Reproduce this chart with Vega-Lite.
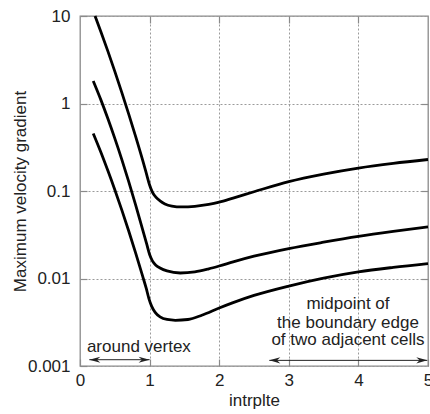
{
  "$schema": "https://vega.github.io/schema/vega-lite/v6.json",
  "width": 348,
  "height": 350,
  "autosize": "none",
  "padding": {"left": 80, "top": 16, "right": 2, "bottom": 48},
  "config": {
    "font": "Liberation Sans",
    "view": {"stroke": "#8a8a8a", "strokeWidth": 1.3},
    "axis": {
      "labelFont": "Liberation Sans",
      "titleFont": "Liberation Sans",
      "labelFontSize": 17,
      "titleFontSize": 17,
      "titleFontWeight": "normal",
      "labelColor": "#222",
      "titleColor": "#222",
      "domain": false,
      "gridColor": "#9a9a9a",
      "gridDash": [2, 2],
      "gridWidth": 1,
      "tickColor": "#8a8a8a",
      "tickSize": -7,
      "tickWidth": 1.2
    }
  },
  "datasets": {
    "curves": [
      {"series": "a", "x": 0.216, "y": 10},
      {"series": "a", "x": 0.3, "y": 6.62},
      {"series": "a", "x": 0.4, "y": 3.97},
      {"series": "a", "x": 0.5, "y": 2.33},
      {"series": "a", "x": 0.6, "y": 1.34},
      {"series": "a", "x": 0.7, "y": 0.757},
      {"series": "a", "x": 0.8, "y": 0.418},
      {"series": "a", "x": 0.9, "y": 0.225},
      {"series": "a", "x": 0.96, "y": 0.152},
      {"series": "a", "x": 1.0, "y": 0.117},
      {"series": "a", "x": 1.04, "y": 0.097},
      {"series": "a", "x": 1.09, "y": 0.085},
      {"series": "a", "x": 1.15, "y": 0.077},
      {"series": "a", "x": 1.22, "y": 0.0712},
      {"series": "a", "x": 1.32, "y": 0.0673},
      {"series": "a", "x": 1.46, "y": 0.0657},
      {"series": "a", "x": 1.65, "y": 0.0668},
      {"series": "a", "x": 1.85, "y": 0.0702},
      {"series": "a", "x": 2.0, "y": 0.0745},
      {"series": "a", "x": 2.2, "y": 0.083},
      {"series": "a", "x": 2.5, "y": 0.098},
      {"series": "a", "x": 3.0, "y": 0.128},
      {"series": "a", "x": 3.5, "y": 0.156},
      {"series": "a", "x": 4.0, "y": 0.183},
      {"series": "a", "x": 4.5, "y": 0.207},
      {"series": "a", "x": 5.0, "y": 0.229},
      {"series": "b", "x": 0.19, "y": 1.81},
      {"series": "b", "x": 0.3, "y": 1.1},
      {"series": "b", "x": 0.4, "y": 0.673},
      {"series": "b", "x": 0.5, "y": 0.399},
      {"series": "b", "x": 0.6, "y": 0.23},
      {"series": "b", "x": 0.7, "y": 0.128},
      {"series": "b", "x": 0.8, "y": 0.069},
      {"series": "b", "x": 0.9, "y": 0.0361},
      {"series": "b", "x": 0.96, "y": 0.0245},
      {"series": "b", "x": 1.0, "y": 0.0188},
      {"series": "b", "x": 1.04, "y": 0.0159},
      {"series": "b", "x": 1.09, "y": 0.0142},
      {"series": "b", "x": 1.15, "y": 0.0132},
      {"series": "b", "x": 1.25, "y": 0.0122},
      {"series": "b", "x": 1.44, "y": 0.01155},
      {"series": "b", "x": 1.65, "y": 0.0119},
      {"series": "b", "x": 1.85, "y": 0.0129},
      {"series": "b", "x": 2.0, "y": 0.0139},
      {"series": "b", "x": 2.2, "y": 0.0155},
      {"series": "b", "x": 2.5, "y": 0.018},
      {"series": "b", "x": 3.0, "y": 0.022},
      {"series": "b", "x": 3.5, "y": 0.026},
      {"series": "b", "x": 4.0, "y": 0.0303},
      {"series": "b", "x": 4.5, "y": 0.0345},
      {"series": "b", "x": 5.0, "y": 0.0388},
      {"series": "c", "x": 0.19, "y": 0.455},
      {"series": "c", "x": 0.3, "y": 0.277},
      {"series": "c", "x": 0.4, "y": 0.171},
      {"series": "c", "x": 0.5, "y": 0.1035},
      {"series": "c", "x": 0.6, "y": 0.0609},
      {"series": "c", "x": 0.7, "y": 0.0349},
      {"series": "c", "x": 0.8, "y": 0.0195},
      {"series": "c", "x": 0.9, "y": 0.01064},
      {"series": "c", "x": 0.95, "y": 0.0078},
      {"series": "c", "x": 0.99, "y": 0.0059},
      {"series": "c", "x": 1.03, "y": 0.0048},
      {"series": "c", "x": 1.08, "y": 0.0041},
      {"series": "c", "x": 1.15, "y": 0.00365},
      {"series": "c", "x": 1.25, "y": 0.0034},
      {"series": "c", "x": 1.37, "y": 0.00333},
      {"series": "c", "x": 1.55, "y": 0.0034},
      {"series": "c", "x": 1.75, "y": 0.0038},
      {"series": "c", "x": 2.0, "y": 0.0046},
      {"series": "c", "x": 2.2, "y": 0.0053},
      {"series": "c", "x": 2.5, "y": 0.0064},
      {"series": "c", "x": 3.0, "y": 0.0082},
      {"series": "c", "x": 3.5, "y": 0.0101},
      {"series": "c", "x": 4.0, "y": 0.0119},
      {"series": "c", "x": 4.5, "y": 0.0134},
      {"series": "c", "x": 5.0, "y": 0.0148}
    ],
    "labels": [
      {"x": 0.846, "y": 0.00145, "text": "around vertex"},
      {"x": 3.85, "y": 0.00453, "text": "midpoint of"},
      {"x": 3.85, "y": 0.00275, "text": "the boundary edge"},
      {"x": 3.85, "y": 0.00172, "text": "of two adjacent cells"}
    ],
    "arrows": [
      {"x1": 0.134, "x2": 1.0, "y": 0.00118},
      {"x1": 2.72, "x2": 4.99, "y": 0.00116}
    ]
  },
  "resolve": {"axis": {"x": "independent", "y": "independent"}},
  "layer": [
    {
      "data": {"name": "curves"},
      "mark": {"type": "line", "color": "#000", "strokeWidth": 2.8, "interpolate": "monotone"},
      "encoding": {
        "x": {
          "field": "x", "type": "quantitative",
          "scale": {"domain": [0, 5], "nice": false, "zero": false},
          "axis": {"title": "intrplte", "values": [0, 1, 2, 3, 4, 5], "labelPadding": 13, "titlePadding": 4, "labelFlush": false}
        },
        "y": {
          "field": "y", "type": "quantitative",
          "scale": {"type": "log", "domain": [0.001, 10], "nice": false},
          "axis": {"title": "Maximum velocity gradient", "values": [0.001, 0.01, 0.1, 1, 10], "format": "~g", "labelPadding": 17, "titlePadding": 2, "titleBaseline": "alphabetic", "labelFlush": false}
        },
        "detail": {"field": "series", "type": "nominal"}
      }
    },
    {
      "data": {"name": "labels"},
      "mark": {"type": "text", "fontSize": 17, "color": "#222", "align": "center", "baseline": "alphabetic", "font": "Liberation Sans"},
      "encoding": {
        "x": {"field": "x", "type": "quantitative", "axis": {"orient": "top", "labels": false, "grid": false, "title": null, "values": [1, 2, 3, 4]}},
        "y": {"field": "y", "type": "quantitative", "axis": {"orient": "right", "labels": false, "grid": false, "title": null, "values": [0.01, 0.1, 1]}},
        "text": {"field": "text"}
      }
    },
    {
      "data": {"name": "arrows"},
      "mark": {"type": "rule", "color": "#222", "strokeWidth": 1},
      "encoding": {
        "x": {"field": "x1", "type": "quantitative", "axis": null},
        "x2": {"field": "x2"},
        "y": {"field": "y", "type": "quantitative", "axis": null}
      }
    },
    {
      "data": {"name": "arrows"},
      "mark": {"type": "point", "shape": "M0,0 L2,-0.55 L1.4,0 L2,0.55 Z", "filled": true, "color": "#222", "size": 121, "opacity": 1},
      "encoding": {
        "x": {"field": "x1", "type": "quantitative", "axis": null},
        "y": {"field": "y", "type": "quantitative", "axis": null}
      }
    },
    {
      "data": {"name": "arrows"},
      "mark": {"type": "point", "shape": "M0,0 L-2,-0.55 L-1.4,0 L-2,0.55 Z", "filled": true, "color": "#222", "size": 121, "opacity": 1},
      "encoding": {
        "x": {"field": "x2", "type": "quantitative", "axis": null},
        "y": {"field": "y", "type": "quantitative", "axis": null}
      }
    }
  ]
}
